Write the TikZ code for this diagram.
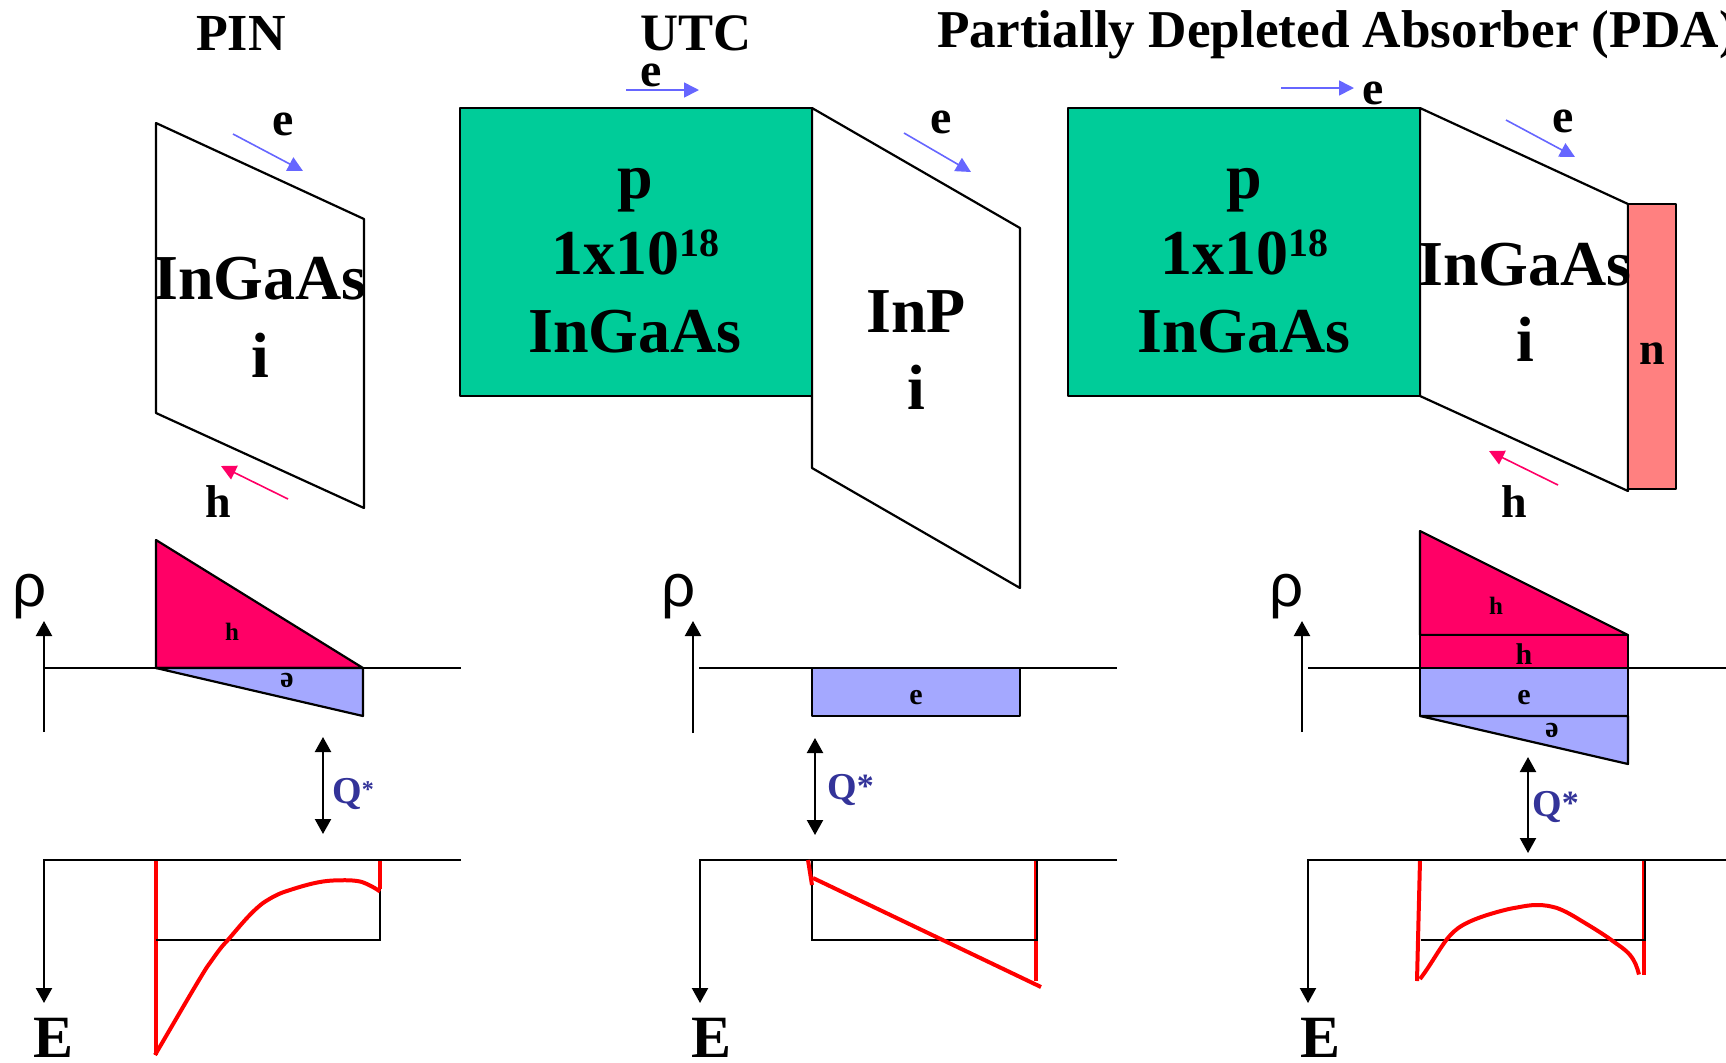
\documentclass[tikz,border=0pt]{standalone}
\usepackage{fontspec}
\setmainfont{Liberation Serif}
\newfontfamily\rhofont{Liberation Sans}
\usetikzlibrary{arrows.meta}
\definecolor{pgreen}{HTML}{00CC99}
\definecolor{pmag}{HTML}{FF0066}
\definecolor{pblue}{HTML}{A4A8FF}
\definecolor{ppink}{HTML}{FF8080}
\definecolor{parrow}{HTML}{6666FF}
\definecolor{qblue}{HTML}{333399}
\newcommand\fsz[1]{\fontsize{#1}{#1}\selectfont}
\tikzset{
  x=0.5pt,y=-0.5pt,
  shape outline/.style={draw=black,line width=1.1pt,line join=round},
  txt/.style={inner sep=0pt,anchor=base,font=\bfseries\fsz{#1}},
  rho/.style={inner sep=0pt,anchor=base,font=\rhofont\fsz{30}},
  axisline/.style={draw=black,line width=1.1pt},
  axisarrow/.style={draw=black,line width=1.1pt,-{Triangle[length=7.5pt,width=8pt]}},
  qarrow/.style={draw=black,line width=1.1pt,{Triangle[length=7.5pt,width=8pt]}-{Triangle[length=7.5pt,width=8pt]}},
  earrow/.style={draw=parrow,line width=0.8pt,-{Triangle[length=7.5pt,width=7.5pt]}},
  harrow/.style={draw=pmag,line width=0.8pt,-{Triangle[length=7.5pt,width=7.5pt]}},
  redline/.style={draw=red,line width=2pt,line join=round},
  qlabel/.style={inner sep=0pt,anchor=base west,text=qblue,font=\bfseries\fsz{19}},
}
\begin{document}
\begin{tikzpicture}
\useasboundingbox (0,0) rectangle (1726,1062);
\begin{scope}[yshift=-0.5pt]
% ---------- titles
\node[txt=26] (tpin) at (241,49) {PIN};
\node[txt=26.3] (tutc) at (696,49) {UTC};
\node[txt=26.6,anchor=base west] (tpda) at (937,46) {Partially Depleted Absorber (PDA)};

% ---------- PIN device
\draw[shape outline] (156,122) -- (364,218) -- (364,507) -- (156,412) -- cycle;
\node[txt=32] (pinA) at (260,298) {InGaAs};
\node[txt=32] (pinB) at (260,376) {i};
\node[txt=24] (pinE) at (283,134) {e};
\node[txt=23] (pinH) at (218,516) {h};
\draw[earrow] (233,133) -- (303,170);
\draw[harrow] (288,498) -- (221,465);

% PIN charge
\draw[shape outline,fill=pmag] (156,539) -- (363,667) -- (156,667) -- cycle;
\draw[shape outline,fill=pblue] (156,667) -- (363,667) -- (363,715) -- cycle;
\draw[axisarrow] (44,731) -- (44,620);
\draw[axisline] (44,667) -- (461,667);
\node[rho] (pinRho) at (30,605) {ρ};
\node[txt=12.5] (pinHq) at (232,639) {h};
\node[txt=15,anchor=center,rotate=180,text depth=0pt] (pinEq) at (287,680) {e};
\draw[qarrow] (323,736) -- (323,833);
\node[qlabel] (pinQ) at (332,802) {Q\raisebox{3pt}{\fsz{12}*}};

% PIN field
\draw[redline] (156,859) -- (156,1054);
\draw[redline] (380,859) -- (380,888);
\draw[axisarrow] (461,859) -- (44,859) -- (44,1002);
\draw[axisline] (156,939) -- (380,939) -- (380,888);
\draw[redline] (155,1054) .. controls (175,1020) and (195,985) .. (207,966)
  .. controls (215,955) and (220,947) .. (227,940)
  .. controls (240,925) and (250,912) .. (263,902)
  .. controls (272,896) and (280,892) .. (287,890)
  .. controls (305,884) and (320,880) .. (333,879.5)
  .. controls (345,879) and (355,879) .. (362,881)
  .. controls (370,884) and (375,887) .. (380,890.5);
\node[txt=30] (pinEE) at (54,1056) {E};

% ---------- UTC device
\draw[shape outline,fill=white] (812,107) -- (1020,227) -- (1020,587) -- (812,467) -- cycle;
\draw[shape outline,fill=pgreen] (460,107) rectangle (812,395);
\node[txt=32] (utcP) at (635,197) {p};
\node[txt=32] (utcD) at (635,273) {1x10\raisebox{9pt}{\fsz{20}18}};
\node[txt=32] (utcA) at (635,351) {InGaAs};
\node[txt=32] (utcB) at (916,331) {InP};
\node[txt=32] (utcC) at (916,408) {i};
\node[txt=24] (utcE1) at (651,85) {e};
\node[txt=24] (utcE2) at (941,132) {e};
\draw[earrow] (626,89) -- (699,89);
\draw[earrow] (904,132) -- (971,171);

% UTC charge
\draw[shape outline,fill=pblue] (812,667) rectangle (1020,715);
\draw[axisarrow] (693,732) -- (693,620);
\draw[axisline] (699,667) -- (1117,667);
\node[rho] (utcRho) at (679,605) {ρ};
\node[txt=15] (utcEq) at (916,703) {e};
\draw[qarrow] (815,737) -- (815,834);
\node[qlabel] (utcQ) at (827,798) {Q\raisebox{1pt}{\fsz{17}*}};

% UTC field
\draw[redline] (1035.5,859) -- (1035.5,980);
\draw[axisarrow] (1117,859) -- (700,859) -- (700,1002);
\draw[axisline] (812,859) -- (812,939) -- (1037,939) -- (1037,859);
\draw[redline] (808,859) -- (812,884);
\draw[redline] (813,877) -- (1041,986);
\node[txt=30] (utcEE) at (712,1056) {E};

% ---------- PDA device
\draw[shape outline,fill=white] (1420,107) -- (1628,203) -- (1628,490) -- (1420,395) -- cycle;
\draw[shape outline,fill=pgreen] (1068,107) rectangle (1420,395);
\draw[shape outline,fill=ppink] (1628,203) rectangle (1676,488);
\node[txt=32] (pdaP) at (1244,197) {p};
\node[txt=32] (pdaD) at (1244,273) {1x10\raisebox{9pt}{\fsz{20}18}};
\node[txt=32] (pdaA) at (1244,351) {InGaAs};
\node[txt=32] (pdaB) at (1525,284) {InGaAs};
\node[txt=32] (pdaC) at (1525,360) {i};
\node[txt=23] (pdaN) at (1652,363) {n};
\node[txt=24] (pdaE1) at (1373,103) {e};
\node[txt=24] (pdaE2) at (1563,131) {e};
\node[txt=23] (pdaH) at (1514,516) {h};
\draw[earrow] (1281,87) -- (1354,87);
\draw[earrow] (1506,119) -- (1575,156);
\draw[harrow] (1558,484) -- (1489,450);

% PDA charge
\draw[shape outline,fill=pmag] (1420,530) -- (1628,634) -- (1420,634) -- cycle;
\draw[shape outline,fill=pmag] (1420,634) rectangle (1628,667);
\draw[shape outline,fill=pblue] (1420,667) rectangle (1628,715);
\draw[shape outline,fill=pblue] (1420,715) -- (1628,715) -- (1628,763) -- cycle;
\draw[axisarrow] (1302,731) -- (1302,620);
\draw[axisline] (1308,667) -- (1726,667);
\node[rho] (pdaRho) at (1287,605) {ρ};
\node[txt=12.5] (pdaH1) at (1496,613) {h};
\node[txt=15] (pdaH2) at (1524,663) {h};
\node[txt=15] (pdaEq) at (1524,703) {e};
\node[txt=15,anchor=center,rotate=180,text depth=0pt] (pdaEr) at (1552,730) {e};
\draw[qarrow] (1528,756) -- (1528,852);
\node[qlabel] (pdaQ) at (1532,815) {Q\raisebox{1pt}{\fsz{17}*}};

% PDA field
\draw[redline] (1420,859) -- (1417,980);
\draw[redline] (1643.5,859) -- (1643.5,974);
\draw[axisarrow] (1726,859) -- (1308,859) -- (1308,1002);
\draw[axisline] (1420.5,939) -- (1645,939) -- (1645,859);
\draw[redline] (1420,978) .. controls (1430,965) and (1438,950) .. (1447,938)
  .. controls (1452,932) and (1456,928) .. (1463,924)
  .. controls (1470,920) and (1478,917) .. (1487,914)
  .. controls (1497,911) and (1507,908) .. (1517,906.5)
  .. controls (1525,905) and (1530,904) .. (1537,904)
  .. controls (1545,904) and (1550,905) .. (1557,907)
  .. controls (1565,910) and (1572,914) .. (1580,919)
  .. controls (1590,925) and (1600,931) .. (1610,938)
  .. controls (1618,944) and (1625,948) .. (1630,954)
  .. controls (1635,960) and (1637,966) .. (1639,973.5);
\node[txt=30] (pdaEE) at (1320,1056) {E};
\end{scope}
\end{tikzpicture}
\end{document}
